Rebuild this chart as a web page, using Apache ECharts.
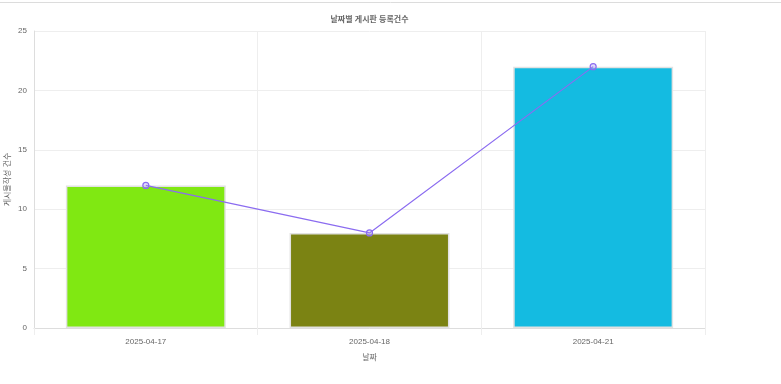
<!DOCTYPE html>
<html>
<head>
<meta charset="utf-8">
<script src="https://cdn.jsdelivr.net/npm/echarts@6/dist/echarts.min.js"></script>
<style>
html,body{margin:0;padding:0;background:#fff;}
#chart{width:781px;height:384px;}
</style>
</head>
<body>
<div id="chart"></div>
<script>
var categories = ['2025-04-17', '2025-04-18', '2025-04-21'];
var counts = [12, 8, 22];
var barColors = ['#80E812', '#7B8313', '#14BBE1'];
var yTicks = [0, 5, 10, 15, 20, 25];

var fontFam = '"Liberation Sans", Arial, "Noto Sans CJK KR", sans-serif';
var chart = echarts.init(document.getElementById('chart'));
chart.setOption({
  animation: false,
  title: {
    text: '날짜별 게시판 등록건수',
    left: 364.5, textAlign: 'center', top: 11,
    textStyle: {fontSize: 8, fontWeight: 'bold', color: '#666', fontFamily: fontFam}
  },
  graphic: [{
    type: 'line', shape: {x1: 0, y1: 2.5, x2: 781, y2: 2.5},
    style: {stroke: '#dcdcdc', lineWidth: 1}
  }],
  grid: {left: 34, right: 76, top: 31, bottom: 56, containLabel: false, outerBoundsMode: 'none'},
  xAxis: {
    type: 'category', data: categories,
    name: '날짜', nameLocation: 'middle', nameGap: 26, nameMoveOverlap: false,
    nameTextStyle: {fontSize: 8, color: '#666', fontFamily: fontFam},
    axisLine: {lineStyle: {color: '#ddd'}},
    axisTick: {show: true, length: 7, lineStyle: {color: '#eee'}},
    splitLine: {show: true, lineStyle: {color: '#eee'}},
    axisLabel: {fontSize: 8, color: '#666', margin: 10, fontFamily: fontFam}
  },
  yAxis: {
    type: 'value', min: 0, max: 25, interval: 5,
    name: '게시물작성 건수', nameLocation: 'middle', nameGap: 22, nameMoveOverlap: false,
    nameTextStyle: {fontSize: 8, color: '#666', fontFamily: fontFam},
    axisLine: {show: true, lineStyle: {color: '#ddd'}},
    axisTick: {show: false},
    splitLine: {lineStyle: {color: '#eee'}},
    axisLabel: {fontSize: 8, color: '#666', margin: 7, fontFamily: fontFam,
      formatter: function (v) { return yTicks.indexOf(v) >= 0 ? String(v) : ''; }}
  },
  series: [{
    type: 'bar', data: counts.map(function (v, i) {
      return {value: v, itemStyle: {color: barColors[i]}};
    }),
    barWidth: '71.5%',
    itemStyle: {borderColor: '#e2e2e2', borderWidth: 1.5},
    z: 1
  }, {
    type: 'line', data: counts,
    symbol: 'circle', symbolSize: 6,
    lineStyle: {color: '#8B6CF0', width: 1.2},
    itemStyle: {color: 'rgba(170,150,245,0.35)', borderColor: '#8B6CF0', borderWidth: 1.2},
    z: 3
  }]
});
</script>
</body>
</html>
